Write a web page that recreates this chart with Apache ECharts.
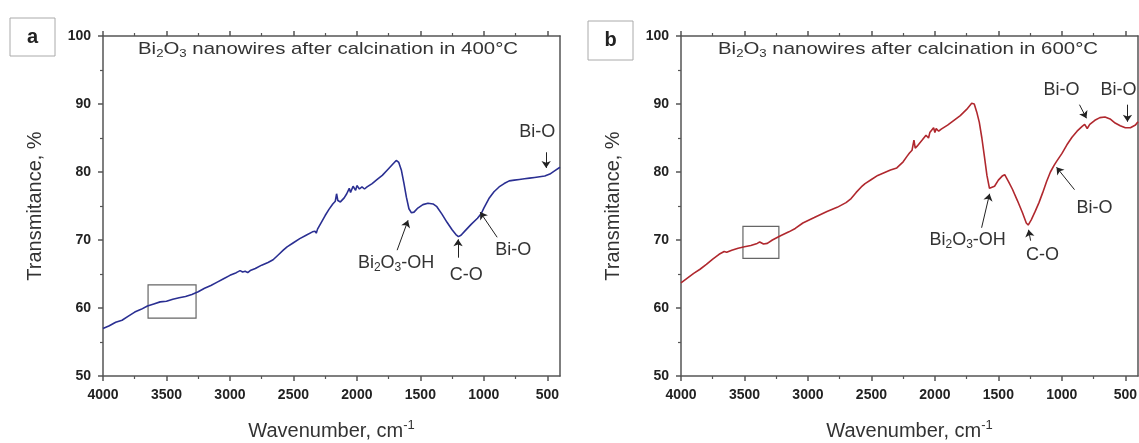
<!DOCTYPE html>
<html><head><meta charset="utf-8">
<script src="https://cdn.jsdelivr.net/npm/echarts@6/dist/echarts.min.js"></script>
<style>html,body{margin:0;padding:0;background:#fff}#c{width:1139px;height:443px}</style>
</head><body><div id="c"></div>
<script>
// ---- data ----
const wavenumberA = [4000,3950,3900,3850,3800,3750,3700,3650,3600,3550,3500,3450,3400,3350,3300,3250,3200,3150,3100,3050,3000,2950,2920,2900,2880,2860,2840,2800,2750,2700,2660,2620,2580,2550,2500,2450,2400,2350,2330,2320,2310,2280,2250,2220,2190,2170,2160,2150,2130,2100,2080,2060,2050,2030,2010,2000,1980,1960,1940,1920,1880,1840,1800,1760,1720,1690,1670,1650,1630,1610,1590,1570,1550,1520,1480,1440,1400,1370,1330,1290,1250,1220,1200,1180,1150,1100,1050,1020,1000,960,920,880,840,800,760,720,680,640,600,560,520,480,440,400];
const transmittanceA = [57.0,57.4,57.9,58.2,58.8,59.4,59.8,60.3,60.6,60.9,61.0,61.3,61.5,61.7,62.0,62.4,62.9,63.3,63.8,64.3,64.8,65.2,65.5,65.3,65.4,65.2,65.5,65.8,66.3,66.7,67.1,67.8,68.5,69.0,69.6,70.2,70.7,71.2,71.3,71.0,71.6,72.6,73.6,74.5,75.3,75.7,76.8,75.8,75.6,76.2,76.8,77.6,77.0,77.9,77.3,78.0,77.5,77.8,77.5,77.8,78.3,78.9,79.5,80.3,81.1,81.7,81.4,80.3,78.4,76.3,74.6,74.0,74.1,74.7,75.2,75.4,75.3,74.9,73.8,72.6,71.5,70.8,70.5,70.7,71.3,72.3,73.2,73.9,74.7,76.1,77.1,77.8,78.3,78.7,78.8,78.9,79.0,79.1,79.2,79.3,79.4,79.7,80.2,80.7];
const wavenumberB = [4000,3950,3900,3850,3800,3750,3700,3660,3640,3600,3550,3500,3450,3400,3380,3350,3320,3280,3220,3150,3100,3040,2950,2850,2770,2700,2660,2620,2580,2550,2500,2450,2400,2350,2300,2250,2220,2200,2180,2165,2155,2140,2100,2070,2050,2040,2025,2010,2000,1990,1970,1950,1900,1850,1800,1750,1710,1690,1670,1650,1630,1610,1590,1570,1555,1530,1500,1470,1450,1420,1390,1350,1310,1280,1265,1240,1210,1180,1150,1120,1090,1060,1040,1000,960,920,880,840,820,800,780,740,700,660,620,580,540,500,460,420,400];
const transmittanceB = [63.7,64.4,65.1,65.7,66.4,67.2,67.9,68.3,68.2,68.5,68.8,69.0,69.2,69.5,69.7,69.4,69.5,70.0,70.6,71.2,71.7,72.5,73.3,74.2,74.8,75.5,76.1,77.0,77.8,78.3,78.9,79.5,79.9,80.3,80.6,81.5,82.3,82.8,83.2,84.7,83.5,83.8,84.7,85.4,85.0,85.8,85.6,86.5,85.8,86.4,86.0,86.3,86.9,87.6,88.3,89.2,90.1,90.0,88.8,87.3,85.0,82.3,79.5,77.6,77.4,77.9,78.8,79.4,79.6,78.6,77.5,75.8,74.0,72.5,72.2,73.0,74.2,75.5,77.0,78.6,80.0,81.0,81.6,82.7,84.0,85.1,86.0,86.7,87.0,86.4,87.0,87.6,88.0,88.1,87.8,87.2,86.8,86.5,86.5,86.9,87.4];
const xMajorTicks = [500,1000,1500,2000,2500,3000,3500,4000];
const xMinorTicks = [750,1250,1750,2250,2750,3250,3750];
const yTicks = [50,60,70,80,90,100];
const titlesText = ['nanowires after calcination in 400°C','nanowires after calcination in 600°C'];
const panelLetters = ['a','b'];

// ---- annotation placement (data coordinates) ----
const annotA = {
  labels: [
    {at:[580,85.9], t:'{n|Bi-O}'},
    {at:[1691,66.6], t:'{n|Bi}{s|2}{n|O}{s|3}{n|-OH}'},
    {at:[1139,64.9], t:'{n|C-O}'},
    {at:[769,68.5], t:'{n|Bi-O}'}
  ],
  arrows: [
    [[509,82.9],[509,80.6]],
    [[1683,68.5],[1597,72.9]],
    [[1203,67.4],[1203,70.1]],
    [[895,70.4],[1029,74.1]]
  ],
  box: [[3645,63.4],[3267,58.5]]
};
const annotB = {
  labels: [
    {at:[1002,92.1], t:'{n|Bi-O}'},
    {at:[554,92.1], t:'{n|Bi-O}'},
    {at:[743,74.7], t:'{n|Bi-O}'},
    {at:[1742,70.0], t:'{n|Bi}{s|2}{n|O}{s|3}{n|-OH}'},
    {at:[1152,67.8], t:'{n|C-O}'}
  ],
  arrows: [
    [[861,89.9],[806,87.9]],
    [[483,89.9],[483,87.4]],
    [[900,77.4],[1042,80.7]],
    [[1632,71.8],[1569,76.8]],
    [[1246,69.9],[1262,71.5]]
  ],
  box: [[3512,72.0],[3229,67.3]]
};

const FONT = '"Liberation Sans", Arial, sans-serif';
const AX = '#555';
const richSub = {
  n: {fontSize: 18, color: '#333', fontFamily: FONT},
  s: {fontSize: 12, color: '#333', fontFamily: FONT, padding: [10, 0, 0, 0]}
};
const grids = [
  {left: 103, top: 36, width: 457, height: 340, outerBoundsMode: 'none', containLabel: false},
  {left: 681, top: 36, width: 457, height: 340, outerBoundsMode: 'none', containLabel: false}
];

function xAxesFor(g) {
  const base = {gridIndex: g, type: 'value', min: 400, max: 4000, inverse: true, splitLine: {show: false}};
  return [
    Object.assign({}, base, {
      position: 'bottom',
      axisLine: {show: true, lineStyle: {color: AX, width: 1.5}},
      axisTick: {show: true, inside: false, length: 5, customValues: xMajorTicks, lineStyle: {color: AX, width: 1.5}},
      axisLabel: {show: true, customValues: xMajorTicks, formatter: v => String(v), fontFamily: FONT, fontWeight: 'bold', fontSize: 14, color: '#222', margin: 12},
      name: '{n|Wavenumber, cm}{sup|-1}',
      nameLocation: 'middle', nameGap: 43,
      nameTextStyle: {rich: {n: {fontSize: 20, color: '#333', fontFamily: FONT}, sup: {fontSize: 13, color: '#333', fontFamily: FONT, padding: [0, 0, 12, 0]}}}
    }),
    Object.assign({}, base, {
      position: 'bottom',
      axisLine: {show: false},
      axisTick: {show: true, inside: false, length: 3, customValues: xMinorTicks, lineStyle: {color: AX, width: 1.2}},
      axisLabel: {show: false}
    }),
    Object.assign({}, base, {
      position: 'top',
      axisLine: {show: true, lineStyle: {color: AX, width: 1.5}},
      axisTick: {show: true, inside: false, length: 5, customValues: xMajorTicks, lineStyle: {color: AX, width: 1.5}},
      axisLabel: {show: false}
    }),
    Object.assign({}, base, {
      position: 'top',
      axisLine: {show: false},
      axisTick: {show: true, inside: false, length: 3, customValues: xMinorTicks, lineStyle: {color: AX, width: 1.2}},
      axisLabel: {show: false}
    })
  ];
}
function yAxesFor(g) {
  return [
    {gridIndex: g, type: 'value', min: 50, max: 100, interval: 10, position: 'left',
     splitLine: {show: false},
     axisLine: {show: true, lineStyle: {color: AX, width: 1.5}},
     axisTick: {show: true, inside: false, length: 5, lineStyle: {color: AX, width: 1.5}},
     minorTick: {show: true, splitNumber: 2, length: 3, lineStyle: {color: AX, width: 1.2}},
     axisLabel: {fontFamily: FONT, fontWeight: 'bold', fontSize: 14, color: '#222', margin: 12},
     name: 'Transmitance, %', nameLocation: 'middle', nameGap: 58,
     nameTextStyle: {fontSize: 20, color: '#333', fontFamily: FONT}},
    {gridIndex: g, type: 'value', min: 50, max: 100, interval: 10, position: 'right',
     splitLine: {show: false},
     axisLine: {show: true, lineStyle: {color: AX, width: 1.5}},
     axisTick: {show: false}, axisLabel: {show: false}}
  ];
}
function seriesFor(g, wn, tr, color, ann) {
  return {
    type: 'line', xAxisIndex: g * 4, yAxisIndex: g * 2,
    data: wn.map((w, i) => [w, tr[i]]),
    showSymbol: false, symbol: 'none', smooth: false,
    lineStyle: {color: color, width: 1.6},
    silent: true, animation: false,
    markArea: {silent: true, itemStyle: {color: 'rgba(0,0,0,0)', borderColor: '#666', borderWidth: 1.2},
      data: [[{coord: ann.box[0]}, {coord: ann.box[1]}]]},
    markLine: {silent: true, symbol: ['none', 'arrow'], symbolSize: 7, animation: false,
      lineStyle: {color: '#222', width: 1, type: 'solid'}, label: {show: false},
      data: ann.arrows.map(a => [{coord: a[0]}, {coord: a[1]}])},
    markPoint: {silent: true, animation: false,
      data: ann.labels.map(l => ({coord: l.at, symbol: 'rect', symbolSize: 1, itemStyle: {color: 'rgba(0,0,0,0)'},
        label: {show: true, position: 'inside', formatter: l.t, rich: richSub}}))}
  };
}

const titleX = [138, 718];
const boxes = [{x: 10, y: 18, w: 45, h: 38}, {x: 588, y: 21, w: 45, h: 39}];
const graphic = [];
for (let i = 0; i < 2; i++) {
  graphic.push({type: 'text', x: titleX[i], y: 49, scaleX: 1.2,
    style: {text: '{n|Bi}{s|2}{n|O}{s|3}{n| ' + titlesText[i] + '}', align: 'left', verticalAlign: 'middle',
      rich: {n: {fontSize: 17, fill: '#333', fontFamily: FONT}, s: {fontSize: 11, fill: '#333', fontFamily: FONT, padding: [9, 0, 0, 0]}}}});
  graphic.push({type: 'rect', shape: {x: boxes[i].x, y: boxes[i].y, width: boxes[i].w, height: boxes[i].h},
    style: {fill: '#fff', stroke: '#aaa', lineWidth: 1}});
  graphic.push({type: 'text', x: boxes[i].x + boxes[i].w / 2, y: boxes[i].y + boxes[i].h / 2,
    style: {text: panelLetters[i], fontSize: 20, fontWeight: 'bold', fill: '#222', fontFamily: FONT, align: 'center', verticalAlign: 'middle'}});
}

const chart = echarts.init(document.getElementById('c'), null, {renderer: 'canvas'});
chart.setOption({
  animation: false,
  backgroundColor: '#fff',
  textStyle: {fontFamily: FONT},
  grid: grids,
  xAxis: xAxesFor(0).concat(xAxesFor(1)),
  yAxis: yAxesFor(0).concat(yAxesFor(1)),
  series: [
    seriesFor(0, wavenumberA, transmittanceA, '#2a2f92', annotA),
    seriesFor(1, wavenumberB, transmittanceB, '#b0282e', annotB)
  ],
  graphic: graphic
});
</script></body></html>
